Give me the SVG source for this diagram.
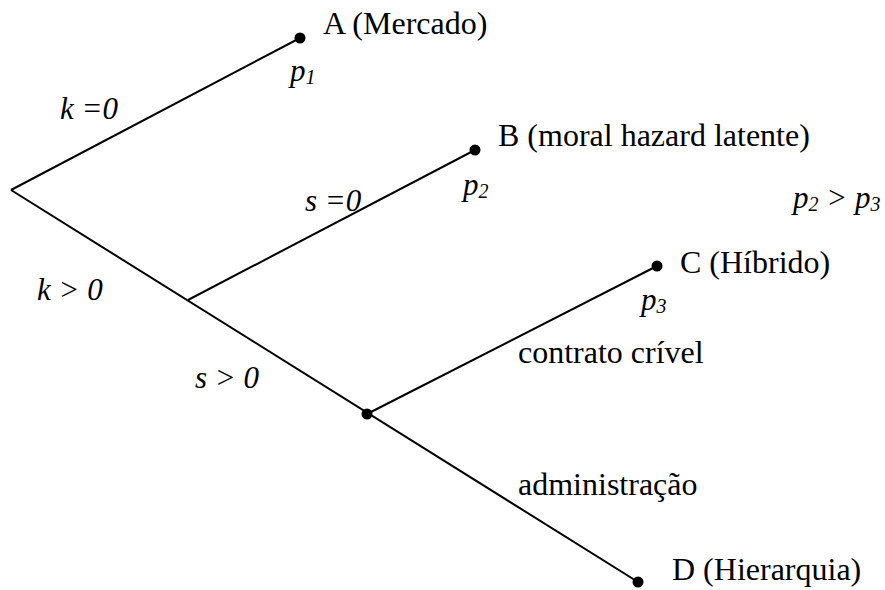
<svg xmlns="http://www.w3.org/2000/svg" width="885" height="590" viewBox="0 0 885 590">
<style>
text{font-family:"Liberation Serif","Times New Roman",serif;font-size:32px;fill:#000}
.i{font-style:italic;font-size:31px}
.sub{font-size:20px}
.e{stroke:#000;stroke-width:2;fill:none}
.d{fill:#000}
</style>
<rect width="885" height="590" fill="#fff"/>
<g id="connectors">
<line class="e" x1="11" y1="190" x2="300" y2="38"/>
<line class="e" x1="11" y1="190" x2="638" y2="582"/>
<line class="e" x1="188" y1="300" x2="475" y2="150"/>
<line class="e" x1="367" y1="414" x2="657" y2="266"/>
</g>
<g id="labels">
<text class="i" x="60" y="119">k =0</text>
<text class="i" x="37" y="300">k &gt; 0</text>
<text class="i" x="305" y="211">s =0</text>
<text class="i" x="195" y="388">s &gt; 0</text>
<text x="518" y="363">contrato crível</text>
<text x="518" y="495">administração</text>
<text class="i" x="793" y="208">p<tspan class="sub" dy="3">2</tspan><tspan dy="-3"> &gt; p</tspan><tspan class="sub" dy="3">3</tspan></text>
</g>
<g id="nodeA">
<circle class="d" cx="300" cy="38" r="5.5"/>
<text x="323" y="34">A (Mercado)</text>
<text class="i" x="290" y="81">p<tspan class="sub" dy="3">1</tspan></text>
</g>
<g id="nodeB">
<circle class="d" cx="475" cy="150" r="5.5"/>
<text x="498" y="146">B (moral hazard latente)</text>
<text class="i" x="463" y="195">p<tspan class="sub" dy="3">2</tspan></text>
</g>
<g id="nodeC">
<circle class="d" cx="657" cy="266" r="5.5"/>
<text x="680" y="273">C (Híbrido)</text>
<text class="i" x="641" y="310">p<tspan class="sub" dy="3">3</tspan></text>
</g>
<g id="nodeS">
<circle class="d" cx="367" cy="414" r="5.5"/>
</g>
<g id="nodeD">
<circle class="d" cx="638" cy="582" r="5.5"/>
<text x="672" y="580">D (Hierarquia)</text>
</g>
</svg>
